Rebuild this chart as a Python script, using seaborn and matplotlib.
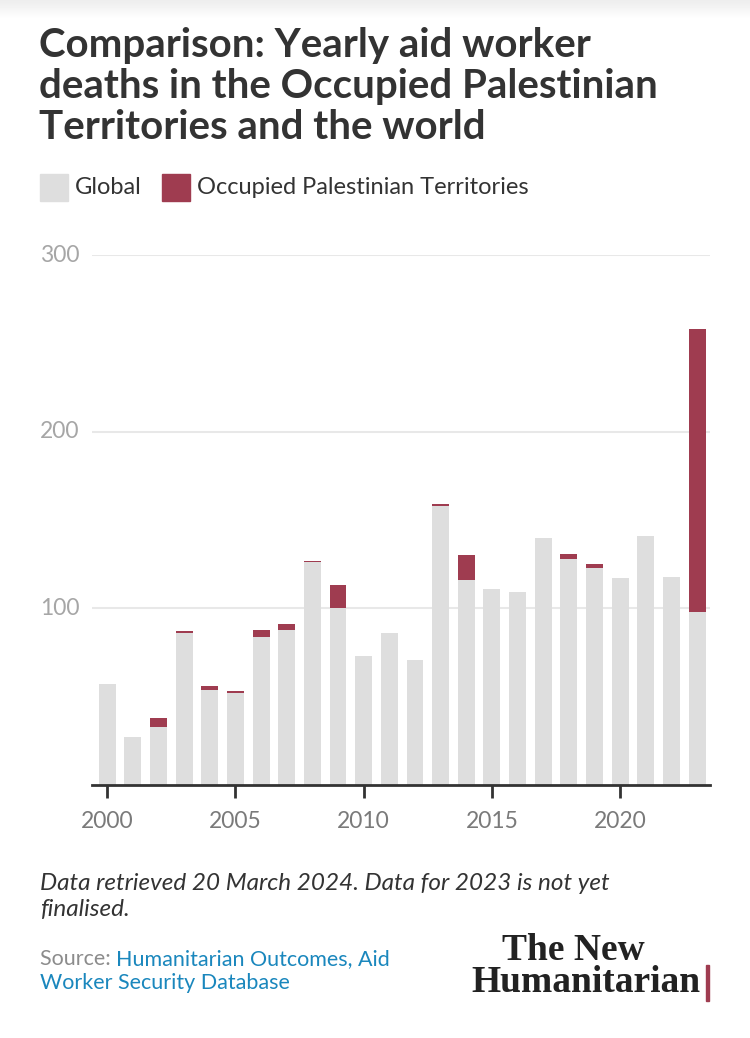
import numpy as np
import pandas as pd
import matplotlib
matplotlib.use("Agg")
import matplotlib.pyplot as plt
from matplotlib.patches import Rectangle
import seaborn as sns

years = list(range(2000, 2024))
global_deaths = [57, 27, 33, 86, 54, 52, 84, 88, 126, 100, 73, 86, 71,
                 158, 116, 111, 109, 140, 128, 123, 117, 141, 118, 98]
opt_deaths = [0, 0, 5, 1, 2, 1, 4, 3, 1, 13, 0, 0, 0,
              1, 14, 0, 0, 0, 3, 2, 0, 0, 0, 160]
x_ticks = [2000, 2005, 2010, 2015, 2020]
y_ticks = [100, 200, 300]

GREY = "#dedede"
RED = "#9f3c50"
TXT = "#333333"
LIGHT = "#a6a6a6"
BLUE = "#1a87bd"

df = pd.DataFrame({"year": years, "Global": global_deaths,
                   "OPT": opt_deaths})
df["total"] = df["Global"] + df["OPT"]

sns.set_theme(style="white")
plt.rcParams["font.family"] = ["Lato", "DejaVu Sans"]

W, H = 750, 1038
fig = plt.figure(figsize=(W / 100, H / 100), dpi=100)


def fx(px):
    return px / W


def fy(py):
    return 1 - py / H


ax = fig.add_axes([fx(92), fy(785), fx(710) - fx(92), fy(255) - fy(785)])

# stacked: draw totals in red, then the global part on top in grey
sns.barplot(data=df, x="year", y="total", native_scale=True, color=RED,
            width=0.66, saturation=1, linewidth=0, ax=ax, zorder=2)
sns.barplot(data=df, x="year", y="Global", native_scale=True, color=GREY,
            width=0.66, saturation=1, linewidth=0, ax=ax, zorder=3)

ax.set_xlim(1999.41, 2023.5)
ax.set_ylim(0, 300)
ax.set_yticks(y_ticks)
ax.set_xticks(x_ticks)
ax.set_xlabel("")
ax.set_ylabel("")
ax.grid(axis="y", color="#e8e8e8", linewidth=1.5, zorder=0)
ax.set_axisbelow(True)
for s in ["top", "right", "left"]:
    ax.spines[s].set_visible(False)
ax.spines["bottom"].set_color(TXT)
ax.spines["bottom"].set_linewidth(2)
ax.spines["bottom"].set_zorder(5)
ax.tick_params(axis="x", direction="out", length=9, width=2, color=TXT,
               labelsize=16.5, labelcolor="#7a7a7a", pad=10, bottom=True)
ax.tick_params(axis="y", length=0, labelsize=16.5, labelcolor=LIGHT, pad=0)
for lab in ax.get_yticklabels():
    lab.set_horizontalalignment("left")
    lab.set_x(-0.0843)
    lab.set_verticalalignment("center")

# top shade
grad = np.linspace(0.93, 1.0, 20).reshape(-1, 1)
fig.figimage(np.repeat(grad, W, axis=1), xo=0, yo=H - 20, cmap="gray",
             vmin=0, vmax=1, origin="upper", zorder=0)

# title
fig.text(fx(39), fy(27), "Comparison: Yearly aid worker\n"
         "deaths in the Occupied Palestinian\nTerritories and the world",
         fontsize=29, fontweight="bold", color=TXT, va="top", ha="left",
         linespacing=1.14)

# legend
fig.add_artist(Rectangle((fx(40), fy(201)), fx(28), fy(174) - fy(201),
                         transform=fig.transFigure, color=GREY))
fig.text(fx(75), fy(188), "Global", fontsize=17, color=TXT, va="center")
fig.add_artist(Rectangle((fx(162), fy(201)), fx(28), fy(174) - fy(201),
                         transform=fig.transFigure, color=RED))
fig.text(fx(197), fy(188), "Occupied Palestinian Territories",
         fontsize=17, color=TXT, va="center")

# notes
fig.text(fx(40), fy(873), "Data retrieved 20 March 2024. Data for 2023 is not yet\nfinalised.",
         fontsize=17.5, style="italic", color=TXT, va="top", linespacing=1.3)
src = fig.text(fx(40), fy(965), "Source: ", fontsize=15.5, color="#8c8c8c",
               va="baseline")
fig.canvas.draw()
plt.annotate("Humanitarian Outcomes, Aid", xy=(1, 0), xycoords=src,
             fontsize=15.5, color=BLUE, va="bottom")
fig.text(fx(40), fy(989), "Worker Security Database", fontsize=15.5,
         color=BLUE, va="baseline")

# logo
fig.text(fx(645), fy(960), "The New", family=["Liberation Serif"],
         fontweight="bold", fontsize=27, color="#222222", ha="right",
         va="baseline")
fig.text(fx(701), fy(992), "Humanitarian", family=["Liberation Serif"],
         fontweight="bold", fontsize=27, color="#222222", ha="right",
         va="baseline")
fig.add_artist(Rectangle((fx(706), fy(1001)), fx(2.5), fy(965) - fy(1001),
                         transform=fig.transFigure, color=RED))

fig.savefig("out.png", dpi=100)
